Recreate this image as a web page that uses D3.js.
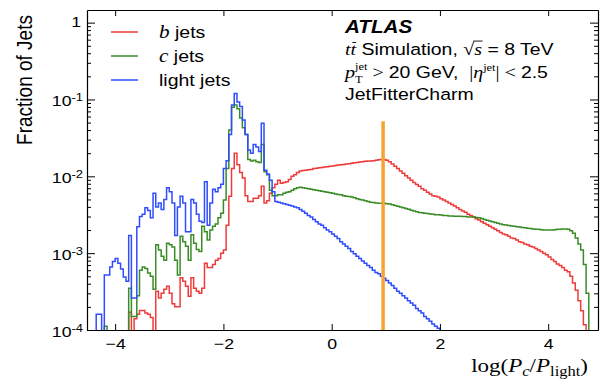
<!DOCTYPE html>
<html>
<head>
<meta charset="utf-8">
<script src="https://cdnjs.cloudflare.com/ajax/libs/d3/7.8.5/d3.min.js"></script>
<style>
  body { margin: 0; background: #fff; }
  svg { display: block; }
  text { white-space: pre; }
</style>
</head>
<body>
<div id="chart"></div>
<script>
// binning of log(Pc/Plight)
var histMin = -4.5;
var binWidth = 0.05;

// fraction of jets per bin
var bJets = [
  0, 0, 0, 0, 0, 0, 0, 0, 0, 0,
  0, 0, 0, 0, 0, 1.7e-4, 0, 1.4e-4, 1.6e-4, 1.8e-4,
  1.8e-4, 1.66e-4, 1.6e-4, 1.45e-4, 0, 3.2e-4, 2.6e-4, 3.0e-4, 3.4e-4, 3.7e-4,
  3.0e-4, 2.2e-4, 2.0e-4, 2.0e-4, 4.8e-4, 4.3e-4, 3.7e-4, 2.75e-4, 4.8e-4, 3.5e-4,
  3.2e-4, 3.0e-4, 3.5e-4, 7.4e-4, 6.5e-4, 6.5e-4, 7.1e-4, 8.1e-4, 8.5e-4, 1.0e-3,
  1.1e-3, 2.3e-3, 5.5e-3, 1.26e-2, 2.0e-2, 1.41e-2, 1.12e-2, 9.5e-3, 5.6e-3, 4.7e-3,
  4.7e-3, 5.2e-3, 5.2e-3, 5.6e-3, 7.4e-3, 4.5e-3, 4.8e-3, 6.0e-3, 7.1e-3, 7.9e-3,
  8.9e-3, 8.1e-3, 8.3e-3, 8.5e-3, 9.1e-3, 1.0e-2, 1.05e-2, 1.12e-2, 1.17e-2, 1.19e-2,
  1.2e-2, 1.22e-2, 1.23e-2, 1.26e-2, 1.27e-2, 1.29e-2, 1.30e-2, 1.32e-2, 1.33e-2, 1.35e-2,
  1.36e-2, 1.38e-2, 1.40e-2, 1.41e-2, 1.43e-2, 1.45e-2, 1.46e-2, 1.48e-2, 1.50e-2, 1.51e-2,
  1.53e-2, 1.55e-2, 1.57e-2, 1.58e-2, 1.58e-2, 1.60e-2, 1.62e-2, 1.64e-2, 1.66e-2, 1.66e-2,
  1.62e-2, 1.55e-2, 1.45e-2, 1.35e-2, 1.26e-2, 1.17e-2, 1.10e-2, 1.02e-2, 9.5e-3, 8.9e-3,
  8.3e-3, 7.8e-3, 7.4e-3, 6.9e-3, 6.6e-3, 6.2e-3, 5.9e-3, 5.6e-3, 5.5e-3, 5.4e-3,
  5.1e-3, 4.9e-3, 4.7e-3, 4.5e-3, 4.3e-3, 4.1e-3, 3.9e-3, 3.7e-3, 3.55e-3, 3.4e-3,
  3.2e-3, 3.1e-3, 2.95e-3, 2.8e-3, 2.7e-3, 2.57e-3, 2.45e-3, 2.34e-3, 2.24e-3, 2.14e-3,
  2.04e-3, 1.95e-3, 1.86e-3, 1.78e-3, 1.74e-3, 1.66e-3, 1.58e-3, 1.55e-3, 1.48e-3, 1.41e-3,
  1.38e-3, 1.32e-3, 1.29e-3, 1.23e-3, 1.20e-3, 1.15e-3, 1.10e-3, 1.05e-3, 1.0e-3, 9.5e-4,
  8.9e-4, 8.3e-4, 7.8e-4, 7.2e-4, 6.9e-4, 6.5e-4, 6.0e-4, 5.75e-4, 5.0e-4, 4.1e-4,
  3.3e-4, 2.4e-4, 1.78e-4, 1.17e-4, 0, 0, 0, 0
];

var cJets = [
  0, 0, 0, 0, 0, 0, 1.12e-4, 0, 0, 0,
  0, 0, 0, 0, 0, 3.5e-4, 1.5e-4, 1.5e-4, 2.8e-4, 6.0e-4,
  6.6e-4, 6.3e-4, 5.5e-4, 5.0e-4, 3.4e-4, 1.29e-3, 1.10e-3, 9.1e-4, 8.1e-4, 1.35e-3,
  1.29e-3, 1.20e-3, 8.1e-4, 5.2e-4, 1.66e-3, 1.41e-3, 1.23e-3, 8.1e-4, 1.74e-3, 1.35e-3,
  1.12e-3, 1.05e-3, 2.24e-3, 1.9e-3, 1.48e-3, 2.0e-3, 2.24e-3, 2.4e-3, 2.9e-3, 3.3e-3,
  4.9e-3, 1.26e-2, 4.0e-2, 7.9e-2, 8.5e-2, 7.6e-2, 5.75e-2, 4.3e-2, 3.5e-2, 1.66e-2,
  1.58e-2, 1.62e-2, 1.55e-2, 1.51e-2, 2.6e-2, 1.15e-2, 1.05e-2, 6.6e-3, 5.6e-3, 5.6e-3,
  5.75e-3, 5.75e-3, 6.0e-3, 6.2e-3, 6.3e-3, 6.6e-3, 6.9e-3, 7.1e-3, 7.2e-3, 7.1e-3,
  7.0e-3, 6.9e-3, 6.8e-3, 6.7e-3, 6.6e-3, 6.5e-3, 6.4e-3, 6.3e-3, 6.2e-3, 6.1e-3,
  6.0e-3, 5.9e-3, 5.8e-3, 5.75e-3, 5.6e-3, 5.5e-3, 5.45e-3, 5.4e-3, 5.25e-3, 5.1e-3,
  5.0e-3, 4.9e-3, 4.8e-3, 4.7e-3, 4.6e-3, 4.57e-3, 4.5e-3, 4.47e-3, 4.47e-3, 4.47e-3,
  4.4e-3, 4.37e-3, 4.27e-3, 4.17e-3, 4.07e-3, 3.98e-3, 3.89e-3, 3.8e-3, 3.72e-3, 3.63e-3,
  3.55e-3, 3.47e-3, 3.39e-3, 3.35e-3, 3.31e-3, 3.27e-3, 3.24e-3, 3.2e-3, 3.16e-3, 3.16e-3,
  3.13e-3, 3.09e-3, 3.09e-3, 3.05e-3, 3.05e-3, 3.02e-3, 3.02e-3, 3.02e-3, 2.99e-3, 2.99e-3,
  2.95e-3, 2.95e-3, 2.95e-3, 2.92e-3, 2.88e-3, 2.82e-3, 2.75e-3, 2.69e-3, 2.63e-3, 2.57e-3,
  2.51e-3, 2.45e-3, 2.4e-3, 2.34e-3, 2.32e-3, 2.29e-3, 2.26e-3, 2.24e-3, 2.21e-3, 2.19e-3,
  2.16e-3, 2.14e-3, 2.11e-3, 2.09e-3, 2.07e-3, 2.04e-3, 2.04e-3, 2.02e-3, 2.0e-3, 2.0e-3,
  2.0e-3, 2.0e-3, 2.02e-3, 2.04e-3, 2.04e-3, 2.07e-3, 2.07e-3, 2.04e-3, 1.95e-3, 1.82e-3,
  1.58e-3, 1.32e-3, 1.1e-3, 7.1e-4, 3.0e-4, 0, 0, 0
];

var lightJets = [
  0, 0, 0, 1.6e-4, 1.6e-4, 0, 5.2e-4, 5.2e-4, 6.6e-4, 7.8e-4,
  8.5e-4, 7.4e-4, 6.2e-4, 4.9e-4, 4.3e-4, 1.7e-3, 2.6e-4, 2.6e-4, 2.2e-3, 3.0e-3,
  3.2e-3, 3.9e-3, 3.6e-3, 2.9e-3, 6.0e-3, 4.0e-3, 4.5e-3, 3.7e-3, 5.0e-3, 7.1e-3,
  6.3e-3, 4.5e-3, 1.7e-3, 4.0e-3, 5.5e-3, 4.5e-3, 1.9e-3, 1.9e-3, 5.0e-3, 4.5e-3,
  3.2e-3, 2.6e-3, 2.5e-3, 8.5e-3, 2.3e-3, 4.5e-3, 6.8e-3, 6.3e-3, 7.1e-3, 7.9e-3,
  1.26e-2, 1.6e-2, 3.5e-2, 8.5e-2, 1.2e-1, 9.3e-2, 8.1e-2, 5.4e-2, 3.5e-2, 2.2e-2,
  2.0e-2, 2.6e-2, 2.4e-2, 2.1e-2, 4.9e-2, 1.2e-2, 1.07e-2, 8.9e-3, 6.3e-3, 4.7e-3,
  4.6e-3, 4.5e-3, 4.4e-3, 4.3e-3, 4.2e-3, 4.1e-3, 4.0e-3, 3.9e-3, 3.7e-3, 3.5e-3,
  3.3e-3, 3.1e-3, 2.95e-3, 2.75e-3, 2.57e-3, 2.4e-3, 2.3e-3, 2.14e-3, 2.0e-3, 1.9e-3,
  1.78e-3, 1.66e-3, 1.55e-3, 1.41e-3, 1.32e-3, 1.23e-3, 1.15e-3, 1.05e-3, 9.8e-4, 9.1e-4,
  8.5e-4, 7.9e-4, 7.4e-4, 6.9e-4, 6.5e-4, 6.0e-4, 5.6e-4, 5.4e-4, 5.0e-4, 4.7e-4,
  4.4e-4, 4.1e-4, 3.8e-4, 3.5e-4, 3.2e-4, 3.0e-4, 2.8e-4, 2.6e-4, 2.4e-4, 2.24e-4,
  2.1e-4, 1.9e-4, 1.78e-4, 1.66e-4, 1.5e-4, 1.4e-4, 1.3e-4, 1.2e-4, 1.12e-4, 1.05e-4,
  9.8e-5
];

var xTicks = [-4, -2, 0, 2, 4];
var yTicks = [1, 1e-1, 1e-2, 1e-3, 1e-4];
var yTickExponents = ["", "-1", "-2", "-3", "-4"];
var seriesNames = ["b", "c", "light"];

// working point of the tagger
var cutValue = 0.95;
var cutTop = 0.052;

// ---- layout / style
var attrs = {
  width: 602,
  height: 383,
  margin: { top: 10, left: 87, bottom: 53, right: 4 },
  colors: ["#ef3b3b", "#3a8c27", "#2f4cff"],
  cutColor: "#f5a431",
  stretch: 1.18   // the reference is drawn wider than tall
};
var sans = "'Liberation Sans', Arial, Helvetica, sans-serif";
var serif = "'Liberation Serif', 'Times New Roman', serif";

var calc = {};
calc.chartWidth = attrs.width - attrs.margin.left - attrs.margin.right;
calc.chartHeight = attrs.height - attrs.margin.top - attrs.margin.bottom;

var x = d3.scaleLinear().domain([-4.52, 4.92]).range([0, calc.chartWidth]);
var y = d3.scaleLog().domain([1e-4, 1.46]).range([calc.chartHeight, 0]);

var svg = d3.select("#chart").append("svg")
  .attr("width", attrs.width)
  .attr("height", attrs.height);

var chartLayer = svg.append("g")
  .attr("transform", "translate(" + [attrs.margin.left, attrs.margin.top] + ")");

chartLayer.append("clipPath").attr("id", "plotClip")
  .append("rect")
  .attr("width", calc.chartWidth)
  .attr("height", calc.chartHeight);

// ---- histograms
function histPoints(values) {
  var pts = [];
  values.forEach(function (v, i) {
    var x0 = histMin + i * binWidth;
    pts.push([x0, v], [x0 + binWidth, v]);
  });
  return pts;
}

var histLine = d3.line()
  .x(function (d) { return x(d[0]); })
  .y(function (d) { return d[1] > 0 ? y(d[1]) : calc.chartHeight + 20; });

var histG = chartLayer.append("g").attr("clip-path", "url(#plotClip)");

[bJets, cJets, lightJets].forEach(function (vals, i) {
  histG.append("path")
    .attr("d", histLine(histPoints(vals)))
    .attr("fill", "none")
    .attr("stroke", attrs.colors[i])
    .attr("stroke-width", 1.5);
});

// cut line
chartLayer.append("line")
  .attr("x1", x(cutValue)).attr("x2", x(cutValue))
  .attr("y1", calc.chartHeight).attr("y2", y(cutTop))
  .attr("stroke", attrs.cutColor)
  .attr("stroke-width", 3.5);

// ---- axes (ticks pointing inward on all four sides)
var minorTicks = y.ticks().filter(function (t) {
  return yTicks.indexOf(t) < 0;
});

function styleAxis(g) {
  g.selectAll(".domain").attr("stroke", "#000").attr("stroke-width", 1.2);
  g.selectAll(".tick line").attr("stroke", "#000");
}

var xAxisG = chartLayer.append("g")
  .attr("transform", "translate(0," + calc.chartHeight + ")")
  .call(d3.axisBottom(x).tickValues(xTicks).tickSize(-6).tickSizeOuter(0).tickPadding(8))
  .attr("font-family", sans)
  .attr("font-size", 15)
  .call(styleAxis);
xAxisG.selectAll(".tick text")
  .attr("fill", "#000")
  .attr("transform", "scale(" + attrs.stretch + ",1)");

chartLayer.append("g")
  .call(d3.axisTop(x).tickValues(xTicks).tickSize(-6).tickSizeOuter(0).tickFormat(""))
  .call(styleAxis);

chartLayer.append("g")
  .call(d3.axisLeft(y).tickValues(yTicks).tickSize(-8).tickSizeOuter(0).tickFormat(""))
  .call(styleAxis);
chartLayer.append("g")
  .call(d3.axisLeft(y).tickValues(minorTicks).tickSize(-4).tickSizeOuter(0).tickFormat(""))
  .call(function (g) { g.select(".domain").remove(); });

var rightG = chartLayer.append("g").attr("transform", "translate(" + calc.chartWidth + ",0)");
rightG.call(d3.axisRight(y).tickValues(yTicks).tickSize(-8).tickSizeOuter(0).tickFormat(""))
  .call(styleAxis);
rightG.append("g")
  .call(d3.axisRight(y).tickValues(minorTicks).tickSize(-4).tickSizeOuter(0).tickFormat(""))
  .call(function (g) { g.select(".domain").remove(); });

// ---- text helpers
function label(parent, px, py, anchor) {
  return parent.append("g")
    .attr("transform", "translate(" + px + "," + py + ") scale(" + attrs.stretch + ",1)")
    .append("text")
    .attr("text-anchor", anchor || "start")
    .attr("fill", "#000");
}

function span(text, str, family, size, italic, bold) {
  return text.append("tspan")
    .attr("font-family", family)
    .attr("font-size", size)
    .attr("font-style", italic ? "italic" : "normal")
    .attr("font-weight", bold ? "bold" : "normal")
    .text(str);
}

// y tick labels
yTicks.forEach(function (t, i) {
  var ty = attrs.margin.top + y(t);
  if (!yTickExponents[i]) {
    span(label(svg, 81, ty + 4.5, "end"), "1", sans, 15);
  } else {
    var lt = label(svg, 83, ty + 7, "end");
    span(lt, "10", sans, 15);
    span(lt, yTickExponents[i], sans, 11).attr("dy", -5);
  }
});

// y title
svg.append("g")
  .attr("transform", "translate(32,80) rotate(-90) scale(1," + attrs.stretch + ")")
  .append("text")
  .attr("text-anchor", "middle")
  .attr("font-family", sans)
  .attr("font-size", 19)
  .text("Fraction of Jets");

// x title
var xt = label(svg, 588, 372, "end");
span(xt, "log(", serif, 19.5);
span(xt, "P", serif, 19.5, true);
span(xt, "c", serif, 14, true).attr("dy", 4);
span(xt, "/", serif, 19.5).attr("dy", -4);
span(xt, "P", serif, 19.5, true);
span(xt, "light", serif, 14).attr("dy", 4);
span(xt, ")", serif, 19.5).attr("dy", -4);

// ---- legend
seriesNames.forEach(function (name, i) {
  var ly = 32 + i * 24;
  svg.append("line")
    .attr("x1", 111).attr("x2", 138)
    .attr("y1", ly).attr("y2", ly)
    .attr("stroke", attrs.colors[i])
    .attr("stroke-width", 1.5);
  var lt = label(svg, 159, ly + 5.5);
  if (name === "light") {
    span(lt, "light jets", sans, 16.5);
  } else {
    span(lt, name, serif, 18, true);
    span(lt, " jets", sans, 16.5);
  }
});

// ---- ATLAS block
var ax = 345;
span(label(svg, ax, 33), "ATLAS", sans, 17.5, true, true);

var l2g = svg.append("g")
  .attr("transform", "translate(" + ax + ",55) scale(" + attrs.stretch + ",1)");
var l2 = l2g.append("text").attr("fill", "#000");
span(l2, "tt", serif, 17, true);
span(l2, " Simulation, ", sans, 16.5);
span(l2, "\u221A", serif, 17);
span(l2, "s", serif, 17, true);
span(l2, " = 8 TeV", sans, 16.5);
// bar over the second t and the sqrt bar over s
var tBox = l2.node().getExtentOfChar(1);
l2g.append("line")
  .attr("x1", tBox.x + 1.5).attr("x2", tBox.x + tBox.width)
  .attr("y1", -12.5).attr("y2", -12.5)
  .attr("stroke", "#000").attr("stroke-width", 0.9);
var rBox = l2.node().getExtentOfChar(15);
var sBox = l2.node().getExtentOfChar(16);
l2g.append("line")
  .attr("x1", rBox.x + rBox.width - 0.8).attr("x2", sBox.x + sBox.width + 0.5)
  .attr("y1", rBox.y + 1.6).attr("y2", rBox.y + 1.6)
  .attr("stroke", "#000").attr("stroke-width", 0.9);

// pT with stacked sub/superscript
var l3 = label(svg, ax, 78);
span(l3, "p", serif, 17, true);
var sup = span(l3, "jet", serif, 10.5).attr("dy", -8);
var wSup = sup.node().getComputedTextLength();
var sub = span(l3, "T", serif, 10.5).attr("dx", -wSup).attr("dy", 12.5);
var wSub = sub.node().getComputedTextLength();
span(l3, " > ", serif, 17).attr("dx", Math.max(0, wSup - wSub)).attr("dy", -4.5);
span(l3, "20 GeV,  ", sans, 16.5);
span(l3, "|", serif, 17);
span(l3, "\u03B7", serif, 17, true);
span(l3, "jet", serif, 10.5).attr("dy", -7);
span(l3, "|", serif, 17).attr("dy", 7);
span(l3, " < ", serif, 17);
span(l3, "2.5", sans, 16.5);

span(label(svg, ax, 100), "JetFitterCharm", sans, 16.5);
</script>
</body>
</html>
